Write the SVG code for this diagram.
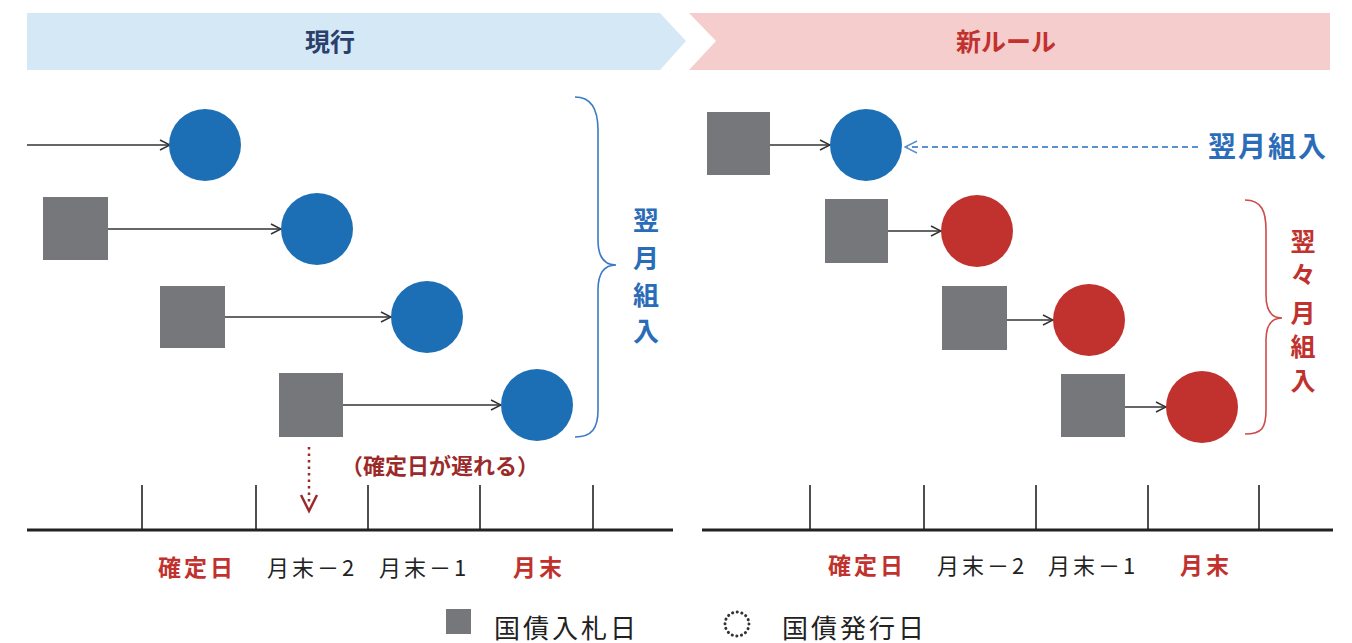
<svg xmlns="http://www.w3.org/2000/svg" width="1352" height="643" viewBox="0 0 1352 643">
<style>
text{font-family:"Noto Sans CJK JP","Noto Sans",sans-serif}
.sq{fill:#76777b}
.cb{fill:#1d6fb5}
.cr{fill:#c1312d}
.ln{stroke:#333;stroke-width:1.5;fill:none}
.ax{stroke:#222;stroke-width:1.6;fill:none}
.axm{stroke:#222;stroke-width:3;fill:none}
.lab{font-size:22px;fill:#222;text-anchor:middle;letter-spacing:3px}
.labr{font-size:23px;fill:#c1312d;font-weight:bold;text-anchor:middle;letter-spacing:3px}
.vb{font-size:26px;fill:#2a6cb8;font-weight:bold;text-anchor:middle}
.vr{font-size:25px;fill:#c1312d;text-anchor:middle}
.leg{font-size:26px;fill:#222;letter-spacing:3px}
</style>
<defs>
<marker id="ah" viewBox="0 0 12 12" refX="11" refY="6" markerWidth="12" markerHeight="12" markerUnits="userSpaceOnUse" orient="auto">
<path d="M1,1 L11,6 L1,11" fill="none" stroke="#333" stroke-width="1.5"/>
</marker>
<marker id="ahb" viewBox="0 0 14 14" refX="13" refY="7" markerWidth="14" markerHeight="14" markerUnits="userSpaceOnUse" orient="auto">
<path d="M1,1 L13,7 L1,13" fill="none" stroke="#5a8fd0" stroke-width="1.5"/>
</marker>
</defs>

<g id="banner-current">
<polygon points="27,13 660,13 686,41 660,70 27,70" fill="#d4e8f6"/>
<text x="330" y="51" font-size="25" font-weight="bold" fill="#2a3f6b" text-anchor="middle">現行</text>
</g>
<g id="banner-new">
<polygon points="689,13 1330,13 1330,70 689,70 716,41" fill="#f5cdcd"/>
<text x="1006" y="51" font-size="25" font-weight="bold" fill="#c1312d" text-anchor="middle">新ルール</text>
</g>

<g id="connectors">
<line class="ln" x1="27" y1="145" x2="170" y2="145" marker-end="url(#ah)"/>
<line class="ln" x1="108" y1="229" x2="281" y2="229" marker-end="url(#ah)"/>
<line class="ln" x1="225" y1="317" x2="391" y2="317" marker-end="url(#ah)"/>
<line class="ln" x1="343" y1="405" x2="501" y2="405" marker-end="url(#ah)"/>
<line class="ln" x1="770" y1="145" x2="830" y2="145" marker-end="url(#ah)"/>
<line class="ln" x1="888" y1="231" x2="941" y2="231" marker-end="url(#ah)"/>
<line class="ln" x1="1007" y1="320" x2="1053" y2="320" marker-end="url(#ah)"/>
<line class="ln" x1="1125" y1="407" x2="1166" y2="407" marker-end="url(#ah)"/>
<line x1="1198" y1="147" x2="905" y2="147" stroke="#5a8fd0" stroke-width="1.8" stroke-dasharray="6,4" marker-end="url(#ahb)"/>
<line x1="309" y1="447" x2="309" y2="505" stroke="#9b2a2a" stroke-width="2.5" stroke-dasharray="2.5,4"/>
<path d="M301,495 L309,511 L317,495" fill="none" stroke="#9b2a2a" stroke-width="2.5"/>
</g>

<g id="left-nodes">
<circle class="cb" cx="205" cy="145" r="36"/>
<rect class="sq" x="43" y="197" width="65" height="63"/>
<circle class="cb" cx="317" cy="229" r="36"/>
<rect class="sq" x="160" y="286" width="65" height="62"/>
<circle class="cb" cx="427" cy="317" r="36"/>
<rect class="sq" x="279" y="373" width="64" height="64"/>
<circle class="cb" cx="537" cy="405" r="36"/>
</g>

<g id="right-nodes">
<rect class="sq" x="707" y="112" width="63" height="63"/>
<circle class="cb" cx="866" cy="145" r="36"/>
<rect class="sq" x="825" y="199" width="63" height="64"/>
<circle class="cr" cx="977" cy="231" r="36"/>
<rect class="sq" x="942" y="286" width="65" height="64"/>
<circle class="cr" cx="1089" cy="320" r="36"/>
<rect class="sq" x="1061" y="374" width="64" height="63"/>
<circle class="cr" cx="1202" cy="407" r="36"/>
</g>

<g id="brace-left">
<path d="M575,97 C592,97 598,110 598,130 L598,240 C598,258 605,265 616,265 C605,265 598,272 598,290 L598,410 C598,428 592,437 575,437" fill="none" stroke="#3a7cc4" stroke-width="1.6"/>
<text class="vb" x="646" y="230">翌</text>
<text class="vb" x="646" y="268">月</text>
<text class="vb" x="646" y="305">組</text>
<text class="vb" x="646" y="341">入</text>
</g>

<g id="brace-right">
<path d="M1245,200 C1262,200 1266,212 1266,230 L1266,295 C1266,312 1272,318 1282,318 C1272,318 1266,325 1266,340 L1266,410 C1266,428 1262,434 1245,434" fill="none" stroke="#d04a4a" stroke-width="1.6"/>
<text class="vr" x="1303" y="251" font-weight="bold">翌</text>
<text class="vr" x="1303" y="284" font-size="18" font-weight="bold">々</text>
<text class="vr" x="1303" y="322" font-weight="bold">月</text>
<text class="vr" x="1303" y="356" font-weight="bold">組</text>
<text class="vr" x="1303" y="390" font-weight="bold">入</text>
</g>

<g id="label-next-month">
<text x="1268" y="157" font-size="28" font-weight="bold" fill="#2a6cb8" text-anchor="middle" letter-spacing="2">翌月組入</text>
</g>

<g id="label-delay">
<text x="440" y="474" font-size="22" font-weight="bold" fill="#9b2a2a" text-anchor="middle">（確定日が遅れる）</text>
</g>

<g id="axis-left">
<line class="axm" x1="27" y1="530" x2="673" y2="530"/>
<line class="ax" x1="142" y1="485" x2="142" y2="530"/>
<line class="ax" x1="256" y1="485" x2="256" y2="530"/>
<line class="ax" x1="368" y1="485" x2="368" y2="530"/>
<line class="ax" x1="480" y1="485" x2="480" y2="530"/>
<line class="ax" x1="593" y1="485" x2="593" y2="530"/>
<text class="labr" x="197" y="576">確定日</text>
<text class="lab" x="312" y="576">月末－2</text>
<text class="lab" x="424" y="576">月末－1</text>
<text class="labr" x="539" y="576">月末</text>
</g>

<g id="axis-right">
<line class="axm" x1="702" y1="530" x2="1333" y2="530"/>
<line class="ax" x1="810" y1="485" x2="810" y2="530"/>
<line class="ax" x1="924" y1="485" x2="924" y2="530"/>
<line class="ax" x1="1036" y1="485" x2="1036" y2="530"/>
<line class="ax" x1="1148" y1="485" x2="1148" y2="530"/>
<line class="ax" x1="1259" y1="485" x2="1259" y2="530"/>
<text class="labr" x="867" y="574">確定日</text>
<text class="lab" x="982" y="574">月末－2</text>
<text class="lab" x="1093" y="574">月末－1</text>
<text class="labr" x="1206" y="574">月末</text>
</g>

<g id="legend">
<rect class="sq" x="446" y="609" width="25" height="25"/>
<text class="leg" x="494" y="638">国債入札日</text>
<circle cx="737" cy="624" r="12" fill="none" stroke="#333" stroke-width="3" stroke-linecap="round" stroke-dasharray="0.1,4.6"/>
<text class="leg" x="782" y="638">国債発行日</text>
</g>
</svg>
